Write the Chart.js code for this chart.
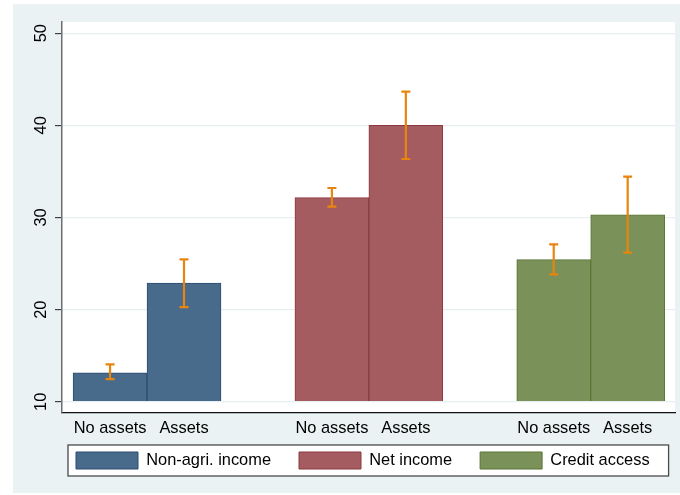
<!DOCTYPE html>
<html>
<head>
<meta charset="utf-8">
<script src="https://cdn.jsdelivr.net/npm/chart.js@4"></script>
<style>html,body{margin:0;padding:0;background:#fff}canvas{display:block}</style>
</head>
<body>
<canvas id="c" width="680" height="495"></canvas>
<script>
// ---- data ----
const groupLabels = ['No assets', 'Assets'];
const seriesNames = ['Non-agri. income', 'Net income', 'Credit access'];
const nonAgriMean  = [13.15, 22.89];
const nonAgriLow   = [12.46, 20.28];
const nonAgriHigh  = [14.06, 25.46];
const netIncomeMean = [32.15, 40.0];
const netIncomeLow  = [31.17, 36.35];
const netIncomeHigh = [33.2, 43.66];
const creditMean = [25.42, 30.3];
const creditLow  = [23.83, 26.18];
const creditHigh = [27.09, 34.43];
const yTicks = [10, 20, 30, 40, 50];

// ---- build ----
const means = [nonAgriMean, netIncomeMean, creditMean];
const lows = [nonAgriLow, netIncomeLow, creditLow];
const highs = [nonAgriHigh, netIncomeHigh, creditHigh];
const slot = groupLabels.length + 1;              // bars per group + one gap
const xOf = (g, k) => g * slot + k + 1;
const fills = ['#486A8B', '#A45C60', '#7A9159'];
const edges = ['#2C4D70', '#8A3A40', '#5A7535'];
const FONT = {family: "'Liberation Sans', Arial, sans-serif", size: 16.4};

const datasets = seriesNames.map((name, g) => ({
  label: name,
  data: means[g].map((v, k) => ({x: xOf(g, k), y: v})),
  backgroundColor: fills[g],
  borderColor: edges[g],
  borderWidth: 1,
  base: yTicks[0],
  grouped: false,
  barPercentage: 1,
  categoryPercentage: 1
}));

const decor = {
  id: 'decor',
  beforeDraw(chart) {
    const ctx = chart.ctx, a = chart.chartArea;
    ctx.save();
    ctx.fillStyle = '#fff';
    ctx.fillRect(0, 0, chart.width, chart.height);
    ctx.fillStyle = '#EAF2F3';
    ctx.fillRect(13, 4, chart.width - 13, 489);
    ctx.fillStyle = '#fff';
    ctx.fillRect(a.left, a.top, a.right - a.left, a.bottom - a.top);
    const hb = chart.legend && chart.legend.legendHitBoxes;
    if (hb && hb.length) {
      const last = hb[hb.length - 1];
      const l = hb[0].left - 8, r = last.left + last.width + 19;
      const t = hb[0].top - 7, b = hb[0].top + hb[0].height + 7;
      ctx.fillStyle = '#fff';
      ctx.fillRect(l, t, r - l, b - t);
      ctx.strokeStyle = '#4a4a4a';
      ctx.lineWidth = 1.3;
      ctx.strokeRect(l, t, r - l, b - t);
    }
    ctx.restore();
  },
  afterDatasetsDraw(chart) {
    const ctx = chart.ctx, xs = chart.scales.x, ys = chart.scales.y;
    ctx.save();
    ctx.strokeStyle = '#E8850E';
    ctx.lineWidth = 2.2;
    seriesNames.forEach((_, g) => {
      lows[g].forEach((lo, k) => {
        const x = xs.getPixelForValue(xOf(g, k));
        const y1 = ys.getPixelForValue(lo);
        const y2 = ys.getPixelForValue(highs[g][k]);
        ctx.beginPath();
        ctx.moveTo(x, y1); ctx.lineTo(x, y2);
        ctx.moveTo(x - 4.5, y1); ctx.lineTo(x + 4.5, y1);
        ctx.moveTo(x - 4.5, y2); ctx.lineTo(x + 4.5, y2);
        ctx.stroke();
      });
    });
    ctx.restore();
  }
};

new Chart(document.getElementById('c'), {
  type: 'bar',
  data: {datasets},
  plugins: [decor],
  options: {
    responsive: false,
    animation: false,
    layout: {padding: {left: 48, right: 0, top: 22, bottom: 16}},
    plugins: {
      tooltip: {enabled: false},
      legend: {
        position: 'bottom',
        align: 'start',
        labels: {boxWidth: 62, boxHeight: 17, padding: 28, color: '#000', font: FONT}
      }
    },
    scales: {
      x: {
        type: 'linear',
        offset: false,
        bounds: 'data',
        min: 0.5 - 0.15,
        max: 3 * slot - 0.5 + 0.14,
        grid: {display: false, drawTicks: false, offset: false},
        border: {display: true, color: '#111', width: 1.2},
        ticks: {
          autoSkip: false, minRotation: 0, maxRotation: 0,
          mirror: true, padding: -25,
          color: '#000', font: FONT,
          callback: (v) => groupLabels[(v - 1) % slot] ?? ''
        },
        afterBuildTicks: (s) => {
          const t = [];
          seriesNames.forEach((_, g) => groupLabels.forEach((__, k) => t.push({value: xOf(g, k)})));
          s.ticks = t;
        },
        afterFit: (s) => { s.height = 11; }
      },
      y: {
        type: 'linear',
        bounds: 'data',
        min: 8.78,
        max: 51.22,
        grid: {color: '#E8EFF1', lineWidth: 1.3, tickColor: '#222', tickLength: 7, tickWidth: 1},
        border: {display: true, color: '#6E6E6E', width: 1.5},
        ticks: {minRotation: 90, maxRotation: 90, crossAlign: 'center', mirror: true, padding: -29.7, color: '#000', font: FONT},
        afterBuildTicks: (s) => { s.ticks = yTicks.map(v => ({value: v})); },
        afterFit: (s) => { s.width = 14; }
      },
      y2: {
        type: 'linear',
        position: 'right',
        display: true,
        grid: {display: false, drawTicks: false},
        border: {display: false},
        ticks: {display: false},
        afterFit: (s) => { s.width = 5; }
      }
    }
  }
});
</script>
</body>
</html>
